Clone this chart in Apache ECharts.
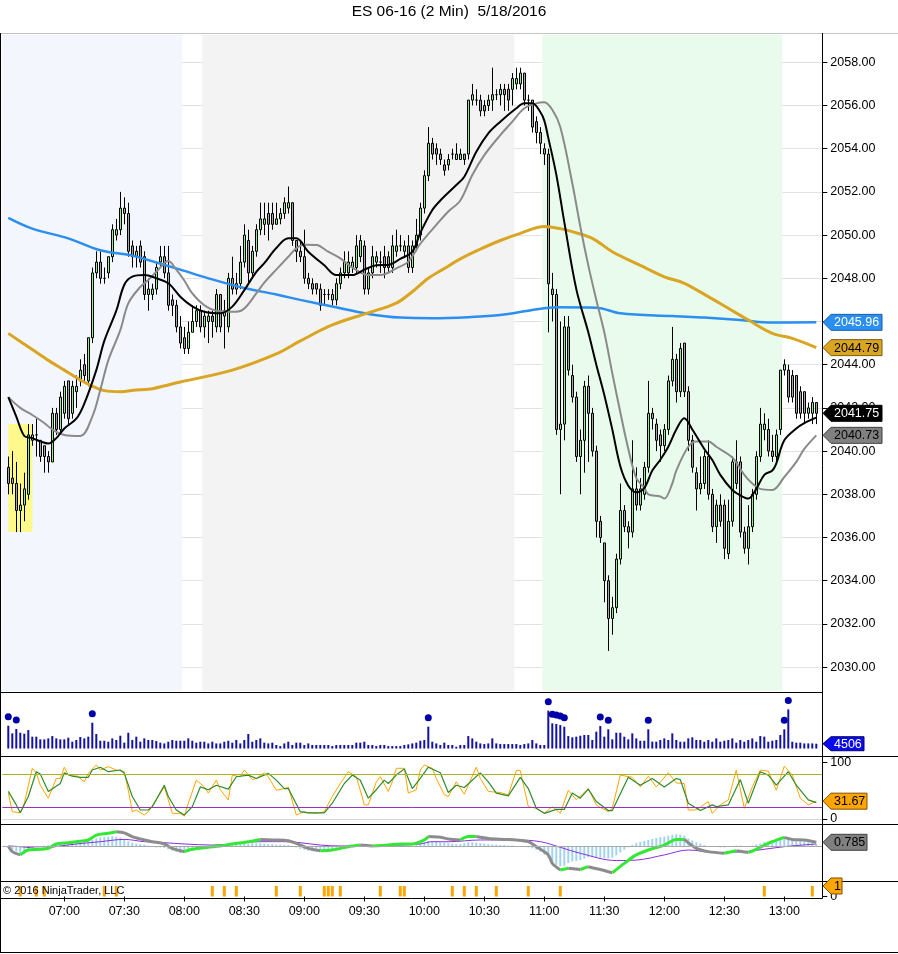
<!DOCTYPE html>
<html><head><meta charset="utf-8">
<script src="https://cdn.jsdelivr.net/npm/echarts@6/dist/echarts.min.js"></script>
<style>html,body{margin:0;padding:0;background:#fff}#c{width:898px;height:954px}</style>
</head><body><div id="c"></div>
<script>
// ---------------- DATA ----------------
const TITLE = 'ES 06-16 (2 Min)  5/18/2016';
const FIRST_BAR = '06:32';
const BAR_MINUTES = 2;

const open = [
2039.25,2038.75,2038.5,2037.25,2037.5,2038.0,2040.5,2040.75,2040.5,2040.25,
2039.75,2039.5,2041.75,2041.0,2041.75,2043.25,2041.75,2042.75,2043.25,2044.0,
2043.25,2045.25,2048.25,2048.75,2048.0,2048.25,2049.0,2050.0,2050.25,2051.25,
2051.0,2049.5,2049.0,2049.5,2049.0,2047.25,2047.25,2047.5,2048.75,2049.0,
2048.25,2047.0,2046.75,2045.75,2045.25,2044.75,2045.5,2046.0,2046.5,2045.75,
2046.0,2046.25,2045.75,2047.25,2046.25,2045.75,2048.0,2047.5,2047.75,2048.75,
2049.75,2048.25,2049.25,2050.25,2050.5,2051.0,2051.0,2050.5,2050.75,2051.0,
2051.25,2051.5,2049.75,2049.25,2049.0,2048.0,2047.75,2047.75,2047.5,2047.25,
2047.25,2047.0,2047.0,2047.75,2048.25,2048.25,2048.5,2048.5,2049.0,2049.5,
2047.5,2048.25,2048.75,2048.75,2049.0,2049.0,2048.5,2049.25,2049.5,2049.25,
2049.5,2048.5,2049.5,2050.0,2051.25,2052.75,2054.25,2054.0,2053.75,2053.25,
2053.25,2053.75,2053.5,2053.5,2053.75,2053.75,2056.25,2056.25,2056.25,2056.0,
2056.0,2056.25,2056.5,2056.5,2056.75,2056.75,2056.75,2057.0,2057.0,2057.5,
2056.25,2056.25,2055.25,2054.75,2054.0,2053.75,2047.5,2047.25,2041.0,2041.25,
2045.75,2043.5,2042.5,2039.75,2040.5,2043.0,2041.75,2040.0,2036.75,2035.75,
2034.0,2032.25,2032.75,2035.0,2037.25,2036.5,2036.25,2038.25,2037.5,2038.0,
2039.25,2041.75,2041.25,2040.75,2040.25,2041.0,2043.25,2044.25,2042.75,2045.0,
2042.75,2040.5,2039.0,2038.25,2038.5,2039.75,2038.0,2036.5,2037.5,2037.5,
2035.25,2036.75,2039.5,2039.5,2036.25,2035.5,2036.5,2038.0,2039.75,2041.0,
2041.0,2040.0,2039.75,2041.0,2043.75,2043.75,2043.5,2043.5,2042.75,2042.75,
2041.75,2041.75,2042.25];

const close = [
2038.5,2038.5,2037.25,2037.5,2038.25,2040.75,2040.75,2040.75,2039.75,2039.75,
2039.5,2041.75,2041.0,2042.5,2043.0,2041.5,2043.0,2043.0,2043.75,2043.5,
2045.25,2048.25,2048.75,2048.0,2048.0,2049.0,2050.25,2050.25,2051.25,2051.0,
2049.25,2049.0,2049.25,2048.75,2047.25,2047.5,2047.5,2048.5,2049.0,2048.25,
2046.75,2046.75,2045.75,2045.0,2044.75,2045.5,2046.0,2046.5,2045.75,2046.25,
2046.25,2046.0,2047.25,2045.75,2046.5,2048.0,2047.5,2047.75,2048.75,2050.0,
2048.25,2049.25,2050.25,2050.75,2050.75,2050.5,2050.5,2050.75,2051.0,2051.5,
2051.5,2049.75,2049.25,2049.0,2048.0,2047.75,2047.5,2047.5,2046.75,2047.25,
2047.25,2047.25,2047.75,2048.25,2048.75,2048.75,2048.75,2049.5,2049.75,2047.5,
2048.25,2049.0,2049.0,2048.75,2048.5,2048.5,2049.5,2049.5,2049.5,2049.5,
2048.5,2049.5,2050.0,2051.25,2052.75,2054.25,2053.75,2053.75,2053.5,2053.0,
2053.5,2053.75,2053.75,2053.75,2053.5,2056.25,2056.5,2056.25,2055.75,2055.75,
2056.25,2056.5,2056.5,2056.75,2056.5,2056.25,2057.25,2057.25,2057.5,2056.25,
2056.25,2055.0,2054.75,2054.25,2053.75,2047.75,2047.25,2041.0,2041.25,2045.75,
2043.75,2042.5,2039.75,2040.5,2043.0,2041.75,2040.0,2036.75,2036.0,2034.0,
2032.25,2032.75,2035.0,2037.25,2036.5,2036.25,2038.25,2037.5,2038.25,2039.25,
2041.75,2041.5,2040.5,2040.25,2041.0,2043.25,2044.25,2042.75,2044.75,2042.75,
2040.5,2039.25,2038.25,2038.5,2039.75,2038.0,2036.5,2037.5,2036.75,2035.5,
2036.75,2039.5,2038.5,2036.25,2035.5,2036.5,2038.0,2039.75,2041.25,2041.25,
2040.0,2039.75,2040.75,2043.75,2044.0,2042.5,2042.5,2041.75,2041.75,2041.75,
2042.0,2042.25,2041.75];

const low = [
2038.0,2038.0,2036.25,2036.25,2036.75,2037.75,2040.25,2039.75,2039.5,2039.0,
2039.0,2039.5,2040.75,2040.75,2041.5,2041.25,2041.5,2042.0,2043.0,2043.25,
2043.0,2045.0,2048.0,2047.75,2047.75,2048.0,2048.75,2049.75,2050.0,2050.5,
2049.0,2048.5,2048.5,2048.5,2047.0,2046.5,2047.0,2047.25,2048.5,2048.0,
2046.5,2046.25,2045.5,2044.75,2044.5,2044.5,2045.5,2045.75,2045.5,2045.25,
2045.0,2045.25,2045.5,2045.5,2044.75,2045.5,2047.25,2047.25,2047.5,2048.5,
2047.75,2048.0,2049.0,2050.0,2050.0,2049.75,2050.25,2050.5,2050.5,2050.75,
2051.0,2049.5,2048.75,2048.75,2047.75,2047.5,2047.25,2047.25,2046.5,2046.75,
2047.0,2046.75,2046.75,2047.5,2048.0,2048.0,2048.25,2048.25,2048.75,2047.25,
2047.25,2048.0,2048.5,2048.25,2048.0,2048.25,2048.25,2049.0,2049.25,2049.0,
2048.25,2048.25,2049.25,2049.75,2051.0,2052.5,2053.5,2053.25,2053.25,2052.75,
2053.0,2053.5,2053.5,2053.5,2053.25,2053.5,2056.0,2056.0,2055.5,2055.5,
2055.75,2055.75,2056.25,2056.0,2055.75,2055.75,2056.0,2056.75,2056.75,2056.0,
2055.75,2054.75,2054.25,2053.75,2053.25,2045.5,2046.0,2040.75,2038.0,2040.5,
2043.5,2042.25,2039.5,2038.0,2039.0,2039.5,2039.75,2036.0,2035.75,2033.0,
2030.75,2031.5,2032.5,2034.75,2036.25,2035.5,2036.0,2037.25,2037.25,2037.75,
2039.0,2041.0,2040.0,2039.5,2040.0,2040.75,2043.0,2042.25,2042.5,2042.5,
2040.0,2039.0,2037.25,2038.0,2038.25,2037.75,2036.25,2035.75,2036.5,2035.0,
2035.0,2036.5,2038.25,2036.0,2035.25,2034.75,2036.25,2037.75,2039.5,2040.5,
2039.75,2039.5,2039.5,2040.75,2043.5,2042.25,2042.25,2041.5,2041.5,2041.25,
2041.5,2041.25,2041.25];

const high = [
2039.75,2040.0,2039.5,2038.5,2039.0,2041.25,2041.25,2041.5,2040.5,2040.25,
2040.0,2042.0,2042.0,2042.75,2043.25,2043.25,2043.25,2043.5,2044.25,2044.5,
2045.25,2048.5,2049.25,2049.25,2048.5,2049.0,2050.5,2050.75,2052.0,2051.75,
2051.5,2049.75,2049.5,2049.75,2049.25,2048.0,2047.75,2048.75,2049.5,2049.5,
2049.5,2047.25,2047.0,2046.25,2045.75,2046.0,2046.75,2046.75,2046.75,2046.5,
2046.5,2046.5,2047.5,2047.25,2047.0,2048.25,2049.0,2048.25,2049.5,2050.5,
2050.25,2049.5,2050.5,2051.5,2051.5,2051.5,2051.5,2051.5,2051.25,2051.75,
2052.25,2051.5,2049.75,2049.75,2050.25,2048.25,2048.0,2047.75,2047.75,2047.5,
2047.5,2047.5,2048.0,2048.5,2049.25,2049.25,2049.0,2050.0,2050.0,2049.75,
2048.5,2049.5,2049.25,2049.25,2049.5,2049.25,2050.0,2050.25,2050.0,2049.75,
2050.0,2049.75,2050.75,2051.5,2053.0,2055.0,2054.5,2054.25,2054.0,2053.5,
2053.75,2054.0,2054.25,2054.0,2053.75,2056.25,2057.0,2056.75,2056.5,2056.25,
2056.5,2057.75,2056.75,2057.0,2057.0,2057.0,2057.5,2057.75,2057.75,2057.5,
2056.5,2056.25,2055.5,2055.0,2054.25,2054.0,2048.25,2047.5,2046.0,2046.25,
2046.25,2044.0,2042.75,2041.0,2043.25,2043.5,2042.0,2040.25,2037.0,2035.75,
2034.25,2033.25,2035.25,2038.5,2037.5,2036.75,2040.5,2039.25,2038.75,2039.5,
2043.25,2042.0,2041.5,2041.0,2041.25,2043.5,2045.75,2044.5,2045.0,2045.0,
2043.0,2040.75,2039.25,2039.75,2040.0,2040.5,2038.25,2037.75,2038.0,2037.75,
2037.75,2039.75,2040.5,2039.75,2036.5,2037.5,2038.25,2040.0,2042.0,2041.75,
2041.5,2040.75,2041.0,2043.75,2044.25,2044.0,2043.75,2043.5,2043.0,2042.75,
2042.25,2042.5,2042.25];

const volume = [
21400,14200,18300,14800,13900,17300,11100,11100,8600,8600,
9500,11700,9500,8600,8600,10200,6400,8000,10800,9500,
11100,24200,13600,7300,7300,6400,9500,8000,12000,5500,
14800,8000,11100,6400,9500,8000,8000,7000,5500,4800,
6400,8000,7300,7300,7300,9500,7300,5500,6400,6400,
4800,6400,4800,4800,6400,7300,5500,8000,4800,8000,
13600,6400,8000,9500,5500,4800,5500,3300,2300,4800,
6400,3300,5500,5500,3300,4800,3300,3300,3300,3300,
3300,2300,3300,3300,3300,3300,3300,5500,5500,6400,
3300,3300,2300,3300,3300,2300,2300,2300,2300,3300,
3900,4800,5500,7300,8000,20500,6400,4800,3300,5500,
3300,3300,1700,3300,3300,11700,9500,6400,4800,4200,
4800,9500,4800,4200,4200,4200,4200,4200,3300,4200,
4800,8000,4800,3300,3300,35500,23600,23000,22000,20500,
11700,10500,11100,12000,12700,12700,8000,15800,21100,11100,
18000,8600,14800,14800,11100,8600,14200,9500,7300,7300,
18000,6400,6400,8000,9500,8000,14200,8000,6400,6400,
9500,10500,8000,8000,6400,8000,6400,9500,6400,7300,
8000,9500,5500,8000,6400,8000,9500,6400,11700,11100,
6400,7300,8000,12700,18000,36700,6400,5500,5500,4800,
4800,4800,4506];

const volumeSpikeTimes = ['06:32','06:36','07:14','10:02','11:02','11:04','11:06','11:08','11:10','11:28','11:32','11:52','13:00','13:02'];

const blueMA = [['06:32',2050.8],['06:44',2050.3],['07:02',2049.85],['07:18',2049.3],['07:34',2049.05],['07:40',2048.9],['07:58',2048.4],['08:14',2047.95],['08:30',2047.55],['08:46',2047.25],['08:58',2047.0],['09:14',2046.69],['09:32',2046.35],['09:48',2046.18],['10:04',2046.15],['10:22',2046.2],['10:38',2046.3],['10:54',2046.53],['11:06',2046.66],['11:26',2046.64],['11:38',2046.38],['12:04',2046.25],['12:20',2046.18],['12:38',2046.07],['12:54',2045.95],['13:16',2045.96]];

const goldMA = [['06:32',2045.45],['06:44',2044.7],['06:52',2044.2],['07:00',2043.75],['07:08',2043.3],['07:14',2043.0],['07:20',2042.8],['07:28',2042.75],['07:36',2042.83],['07:42',2042.86],['07:58',2043.2],['08:24',2043.75],['08:46',2044.5],['08:58',2045.1],['09:14',2045.84],['09:32',2046.4],['09:46',2046.85],['09:54',2047.38],['10:02',2048.0],['10:10',2048.45],['10:18',2048.9],['10:28',2049.35],['10:38',2049.75],['10:48',2050.08],['11:00',2050.4],['11:08',2050.3],['11:14',2050.16],['11:24',2049.85],['11:34',2049.23],['11:48',2048.6],['12:00',2048.07],['12:10',2047.77],['12:22',2047.15],['12:32',2046.61],['12:42',2046.07],['12:54',2045.45],['13:04',2045.22],['13:16',2044.79]];

const blackMA = [['06:32',2042.5],['06:36',2041.6],['06:40',2040.7],['06:44',2040.6],['06:48',2040.45],['06:52',2040.35],['06:56',2040.6],['07:00',2041.05],['07:06',2041.5],['07:10',2042.2],['07:16',2043.75],['07:20',2045.1],['07:26',2046.5],['07:30',2047.7],['07:34',2048.08],['07:40',2048.15],['07:46',2048.0],['07:52',2047.77],['07:58',2047.15],['08:04',2046.7],['08:10',2046.45],['08:18',2046.38],['08:24',2046.69],['08:30',2047.45],['08:36',2048.3],['08:40',2048.7],['08:46',2049.4],['08:52',2049.85],['08:56',2049.85],['09:02',2049.23],['09:10',2048.6],['09:16',2048.15],['09:24',2048.15],['09:30',2048.4],['09:36',2048.6],['09:42',2048.62],['09:48',2048.9],['09:54',2049.23],['09:58',2050.1],['10:04',2051.16],['10:08',2051.6],['10:16',2052.32],['10:20',2052.7],['10:26',2053.86],['10:32',2054.71],['10:38',2055.25],['10:46',2055.87],['10:50',2056.1],['10:54',2056.1],['10:58',2055.7],['11:00',2055.3],['11:02',2054.5],['11:06',2052.8],['11:10',2050.6],['11:16',2047.5],['11:22',2045.5],['11:26',2044.0],['11:30',2042.6],['11:34',2041.0],['11:38',2039.3],['11:42',2038.4],['11:46',2038.1],['11:50',2038.3],['11:54',2039.1],['11:58',2039.6],['12:02',2040.2],['12:06',2041.0],['12:10',2041.52],['12:14',2041.0],['12:20',2040.1],['12:24',2039.59],['12:28',2038.9],['12:34',2038.2],['12:38',2037.95],['12:42',2037.8],['12:46',2038.25],['12:50',2038.9],['12:54',2039.1],['12:56',2039.43],['13:00',2040.5],['13:06',2041.05],['13:10',2041.3],['13:16',2041.55]];

const grayMA = [['06:32',2042.5],['06:38',2042.0],['06:44',2041.67],['06:50',2041.3],['06:54',2041.0],['07:00',2040.75],['07:08',2040.7],['07:14',2041.6],['07:18',2042.83],['07:22',2044.2],['07:28',2045.6],['07:32',2046.84],['07:38',2047.6],['07:42',2047.92],['07:46',2048.3],['07:52',2048.8],['07:56',2048.4],['08:00',2047.9],['08:04',2047.3],['08:10',2046.75],['08:16',2046.5],['08:26',2046.45],['08:30',2046.6],['08:36',2047.3],['08:40',2047.8],['08:46',2048.4],['08:52',2049.0],['08:56',2049.39],['09:00',2049.55],['09:06',2049.54],['09:12',2049.23],['09:18',2048.92],['09:24',2048.5],['09:32',2048.15],['09:38',2048.15],['09:46',2048.46],['09:52',2048.77],['09:58',2049.6],['10:06',2050.47],['10:12',2051.09],['10:18',2051.6],['10:24',2052.78],['10:30',2053.7],['10:38',2054.63],['10:44',2055.25],['10:50',2055.87],['10:56',2056.1],['11:00',2056.15],['11:04',2055.8],['11:08',2055.0],['11:14',2052.4],['11:18',2050.4],['11:22',2048.6],['11:26',2047.0],['11:30',2045.5],['11:34',2043.6],['11:38',2041.8],['11:42',2040.1],['11:46',2038.75],['11:50',2038.3],['11:52',2038.0],['11:58',2037.9],['12:00',2037.8],['12:04',2038.5],['12:06',2039.1],['12:12',2040.2],['12:16',2040.45],['12:22',2040.45],['12:26',2040.2],['12:34',2039.7],['12:40',2038.9],['12:44',2038.5],['12:48',2038.25],['12:54',2038.2],['13:00',2038.8],['13:06',2039.5],['13:10',2040.1],['13:16',2040.73]];

const stochK = [['06:32',46],['06:34',13],['06:38',11],['06:40',28],['06:44',90],['06:46',82],['06:48',60],['06:52',37],['06:56',72],['06:58',72],['07:00',92],['07:02',78],['07:06',78],['07:10',66],['07:12',81],['07:16',96],['07:18',87],['07:22',93],['07:26',87],['07:30',84],['07:32',51],['07:34',13],['07:36',16],['07:40',7],['07:42',13],['07:46',34],['07:50',57],['07:52',34],['07:54',10],['07:58',10],['08:00',5],['08:02',28],['08:06',69],['08:10',57],['08:12',46],['08:16',69],['08:18',52],['08:22',34],['08:24',78],['08:28',75],['08:30',87],['08:34',70],['08:36',72],['08:40',82],['08:42',75],['08:46',51],['08:50',54],['08:52',57],['08:56',7],['09:00',13],['09:02',11],['09:06',10],['09:10',13],['09:14',40],['09:18',63],['09:22',84],['09:26',75],['09:28',51],['09:30',25],['09:32',25],['09:36',66],['09:38',75],['09:42',49],['09:44',66],['09:46',90],['09:50',90],['09:52',46],['09:56',52],['09:58',87],['10:00',96],['10:04',90],['10:06',72],['10:10',43],['10:12',40],['10:16',66],['10:20',44],['10:26',92],['10:28',72],['10:32',49],['10:38',47],['10:42',43],['10:46',86],['10:48',86],['10:52',22],['10:56',19],['11:00',10],['11:04',22],['11:08',10],['11:12',51],['11:16',34],['11:22',54],['11:26',25],['11:32',13],['11:34',19],['11:38',78],['11:44',74],['11:48',57],['11:52',76],['11:56',57],['12:02',82],['12:06',64],['12:10',63],['12:12',16],['12:16',16],['12:22',31],['12:24',10],['12:28',25],['12:32',34],['12:36',87],['12:40',19],['12:44',57],['12:48',87],['12:52',85],['12:56',51],['13:00',94],['13:04',78],['13:08',37],['13:12',25],['13:16',31.67]];

const stochD = [['06:32',49],['06:36',25],['06:38',11],['06:42',40],['06:46',84],['06:48',80],['06:52',49],['06:58',63],['07:00',82],['07:04',76],['07:08',74],['07:12',74],['07:14',87],['07:18',92],['07:22',84],['07:28',87],['07:30',81],['07:34',40],['07:38',16],['07:42',16],['07:44',22],['07:50',60],['07:52',40],['07:56',16],['08:00',7],['08:04',22],['08:08',57],['08:12',52],['08:16',60],['08:22',53],['08:26',75],['08:32',78],['08:36',72],['08:42',81],['08:46',69],['08:50',54],['08:52',54],['08:58',13],['09:02',11],['09:10',11],['09:14',28],['09:20',63],['09:24',78],['09:28',69],['09:32',37],['09:36',52],['09:40',69],['09:42',63],['09:46',78],['09:50',89],['09:54',54],['09:58',72],['10:02',92],['10:08',82],['10:12',47],['10:16',60],['10:20',56],['10:28',82],['10:32',66],['10:36',46],['10:42',41],['10:48',74],['10:52',54],['10:56',19],['11:00',10],['11:06',17],['11:10',17],['11:14',46],['11:18',37],['11:22',53],['11:26',31],['11:32',15],['11:34',15],['11:42',74],['11:48',60],['11:54',72],['12:00',57],['12:06',72],['12:08',70],['12:12',28],['12:18',15],['12:24',25],['12:26',22],['12:32',25],['12:38',70],['12:42',28],['12:48',84],['12:52',78],['12:56',60],['13:02',84],['13:06',60],['13:12',34],['13:16',29]];

const macdLine = [['06:32',0],['06:34',-1.2],['06:38',-1.9],['06:42',-0.85],['06:48',-0.7],['06:52',-0.5],['06:56',0.43],['07:02',0.7],['07:06',0.92],['07:12',1.28],['07:16',2.3],['07:22',2.7],['07:26',3.05],['07:30',2.8],['07:34',2.0],['07:40',1.28],['07:44',0.92],['07:50',0.43],['07:54',-0.5],['08:00',-1.2],['08:04',-0.7],['08:12',-0.28],['08:18',0],['08:24',0.43],['08:32',0.92],['08:38',1.4],['08:44',1.28],['08:52',1.13],['08:56',0.57],['09:02',-0.5],['09:08',-1.0],['09:14',-0.85],['09:22',-0.14],['09:28',0.2],['09:34',0],['09:42',0.2],['09:48',0.43],['09:54',0.43],['10:00',1.28],['10:02',2.0],['10:08',1.84],['10:12',1.5],['10:18',1.28],['10:22',2.0],['10:26',2.0],['10:32',1.6],['10:40',1.4],['10:46',1.28],['10:52',0.92],['10:56',-0.14],['11:02',-1.9],['11:04',-3.7],['11:08',-5.1],['11:12',-4.75],['11:18',-5.0],['11:22',-4.4],['11:28',-5.0],['11:34',-5.7],['11:40',-3.7],['11:46',-1.9],['11:52',-0.85],['12:00',0.2],['12:06',1.4],['12:10',1.4],['12:16',-0.5],['12:22',-1.2],['12:30',-1.56],['12:36',-1.0],['12:42',-1.4],['12:46',-0.7],['12:52',0.57],['13:00',1.84],['13:04',1.4],['13:10',1.28],['13:16',0.785]];

const macdAvg = [['06:32',0],['06:38',-0.14],['06:48',-0.5],['06:58',0],['07:06',0.43],['07:18',0.92],['07:30',1.4],['07:40',0.92],['07:50',0.7],['08:00',0.43],['08:14',0.2],['08:24',0.43],['08:38',0.92],['08:50',0.92],['08:58',0.7],['09:08',0.2],['09:18',0],['09:32',0],['09:48',0.2],['09:58',0.43],['10:04',0.92],['10:12',0.9],['10:28',1.28],['10:46',1.28],['10:58',0.92],['11:08',-0.28],['11:18',-1.56],['11:36',-3.1],['11:46',-3.0],['12:00',-1.9],['12:12',-0.85],['12:26',-1.4],['12:40',-1.2],['12:50',-0.7],['13:00',-0.14],['13:16',0.43]];

const macdDiff = [
-0.3,-0.8,-1.2,-1.5,-1.2,-0.6,-0.3,-0.2,-0.1,0.1,
0.2,0.3,0.5,0.6,0.7,0.6,0.6,0.6,0.7,0.8,
1.0,1.3,1.6,1.8,1.9,2.0,2.1,2.0,1.8,1.5,
1.0,0.7,0.5,0.4,0.3,0.1,-0.1,-0.3,-0.3,-0.4,
-0.7,-1.0,-1.3,-1.5,-1.5,-1.2,-1.0,-0.8,-0.6,-0.5,
-0.4,-0.3,-0.2,-0.1,0,0.1,0.2,0.3,0.4,0.5,
0.5,0.6,0.6,0.6,0.5,0.4,0.4,0.3,0.3,0.2,
0.2,0,-0.3,-0.6,-0.8,-1.0,-1.1,-1.2,-1.1,-1.0,
-0.9,-0.8,-0.6,-0.4,-0.3,-0.2,-0.1,0,0.1,0.1,
0,0,0,0.1,0.1,0.1,0.1,0.2,0.2,0.2,
0.1,0.1,0.2,0.5,0.8,1.1,1.0,0.9,0.8,0.7,
0.6,0.5,0.4,0.4,0.6,0.8,0.8,0.7,0.6,0.5,
0.4,0.3,0.3,0.2,0.2,0.1,0.1,0,-0.1,-0.2,
-0.3,-0.5,-0.8,-1.2,-1.8,-2.6,-3.4,-4.0,-4.3,-4.2,
-3.6,-3.3,-3.2,-3.0,-2.7,-2.4,-2.3,-2.4,-2.5,-2.6,
-2.6,-2.5,-2.0,-1.4,-0.8,-0.3,0.2,0.6,0.9,1.1,
1.3,1.5,1.7,1.9,2.0,2.2,2.4,2.5,2.4,2.2,
1.6,1.2,0.8,0.5,0.2,0,-0.1,-0.2,-0.3,-0.3,
-0.2,-0.1,0.1,0.1,0,-0.1,0.1,0.3,0.5,0.8,
1.0,1.2,1.5,1.7,1.9,1.8,1.6,1.4,1.2,1.0,
0.8,0.6,0.4];

const signalTimes = ['06:38','06:46','06:50','07:20','07:26','08:14','08:20','08:26','08:46','08:58','09:10','09:12','09:14','09:18','09:38','09:48','09:50','10:14','10:20','10:26','10:36','10:52','11:08','12:50','13:14'];

const priceTicks = [2030,2032,2034,2036,2038,2040,2042,2044,2046,2048,2050,2052,2054,2056,2058];
const stochTicks = [0,100];
const stochLevels = [80,20,0];
const highlightBox = {from:'06:32', to:'06:44', top:2041.25, bottom:2036.25};
const sessionBands = [
  {from:'06:29', to:'07:59', color:'#f4f6fd'},
  {from:'08:09', to:'10:45', color:'#f3f3f3'},
  {from:'10:59', to:'12:59', color:'#e9fbec'}
];

// ---------------- BUILD ----------------
function toMin(s){const p=s.split(':');return (+p[0])*60+(+p[1]);}
function fmt(m){return String(Math.floor(m/60)).padStart(2,'0')+':'+String(m%60).padStart(2,'0');}
const t0 = toMin(FIRST_BAR);
const barTimes = open.map((_, i) => fmt(t0 + i*BAR_MINUTES));
const categories = [fmt(t0-BAR_MINUTES), ...barTimes, fmt(t0+open.length*BAR_MINUTES)];
const idxOf = t => barTimes.indexOf(t);

const FONT = '"Liberation Sans", Arial, sans-serif';
const GL = 2.3, GR = 75.7;
const grids = [
  {top:40.7, height:648},   // 0 price
  {top:692, height:64},     // 1 volume
  {top:756, height:68},     // 2 stochastics
  {top:824, height:57},     // 3 macd
  {top:881, height:17},     // 4 signals
  {top:35, height:656}      // 5 session backgrounds
].map(g => Object.assign({left:GL, right:GR, containLabel:false, outerBoundsMode:'none'}, g));

const isHalfHour = (i, v) => i > 0 && /:(00|30)$/.test(v);
const xAxes = [0,1,2,3,4].map(g => ({
  type:'category', gridIndex:g, data:categories, boundaryGap:true,
  axisLine:{show:false},
  axisTick: g===4 ? {show:true, interval:isHalfHour, alignWithLabel:true, length:5, lineStyle:{color:'#000'}} : {show:false},
  axisLabel: g===4 ? {show:true, interval:isHalfHour, color:'#000', fontSize:12.5, fontFamily:FONT, margin:7} : {show:false},
  splitLine:{show:false}
}));
xAxes.push({type:'value', gridIndex:5, min:toMin('06:29'), max:toMin('13:19'), show:false});

const lbl = (vals, fmtFn) => ({customValues:vals, color:'#000', fontSize:12.5, fontFamily:FONT, margin:8, formatter:fmtFn});
const tick = vals => ({show:true, customValues:vals, length:5, lineStyle:{color:'#000'}});
const yAxes = [
  {type:'value', gridIndex:0, position:'right', min:2029, max:2059, interval:1,
   splitLine:{show:true, lineStyle:{color:'#e2e2e2', width:1}}, axisLine:{show:false},
   axisTick:tick(priceTicks), axisLabel:lbl(priceTicks, v => Number(v).toFixed(2))},
  {type:'value', gridIndex:1, min:-7000, max:53000, show:false},
  {type:'value', gridIndex:2, position:'right', min:-8.9, max:111.9, splitLine:{show:false}, axisLine:{show:false},
   axisTick:tick(stochTicks), axisLabel:lbl(stochTicks, v => String(v))},
  {type:'value', gridIndex:3, min:-7.45, max:4.68, show:false},
  {type:'value', gridIndex:4, position:'right', min:-0.143, max:1.476, splitLine:{show:false}, axisLine:{show:false},
   axisTick:tick([0]), axisLabel:lbl([0], v => String(v))},
  {type:'value', gridIndex:5, min:0, max:1, show:false}
];

const lineS = (data, color, width, xi, extra) => Object.assign({
  type:'line', xAxisIndex:xi, yAxisIndex:xi, data, symbol:'none', smooth:0.35,
  lineStyle:{color, width}, itemStyle:{color}, silent:true, z:3
}, extra||{});

const series = [];
series.push({type:'line', xAxisIndex:5, yAxisIndex:5, data:[[toMin('06:29'),0]], symbol:'none',
  lineStyle:{opacity:0}, silent:true, z:-1,
  markArea:{silent:true, data: sessionBands.map(b => [{xAxis:toMin(b.from), itemStyle:{color:b.color, opacity:1}}, {xAxis:toMin(b.to)}])}});
series.push({type:'line', xAxisIndex:0, yAxisIndex:0, data:[], symbol:'none', silent:true, z:1,
  markArea:{silent:true, itemStyle:{color:'rgba(255,250,110,0.8)'},
    data:[[{xAxis:highlightBox.from, yAxis:highlightBox.top}, {xAxis:highlightBox.to, yAxis:highlightBox.bottom}]]}});
series.push({type:'candlestick', xAxisIndex:0, yAxisIndex:0, barWidth:3, z:2, silent:true,
  dimensions:['time','open','close','low','high'], encode:{x:'time', y:['open','close','low','high']},
  data: barTimes.map((t,i) => [t, open[i], close[i], low[i], high[i]]),
  itemStyle:{color:'#90ee90', color0:'#a6a6a6', borderColor:'#000', borderColor0:'#000', borderColorDoji:'#000', borderWidth:1}});
series.push(lineS(blueMA, '#2a8ff0', 2.5, 0));
series.push(lineS(goldMA, '#d9a522', 3, 0));
series.push(lineS(grayMA, '#8a8a8a', 2, 0));
series.push(lineS(blackMA, '#000000', 2, 0));
series.push({type:'bar', xAxisIndex:1, yAxisIndex:1, barWidth:2, silent:true,
  data: barTimes.map((t,i) => [t, volume[i]]), itemStyle:{color:'#12129a'}});
series.push({type:'scatter', xAxisIndex:1, yAxisIndex:1, symbol:'circle', symbolSize:7, symbolOffset:[0,-9], silent:true,
  data: volumeSpikeTimes.map(t => [t, volume[idxOf(t)]]), itemStyle:{color:'#0000a8', opacity:1}});
series.push(lineS(stochK, '#ffa500', 1, 2, {smooth:false, markLine:{silent:true, symbol:['none','none'], label:{show:false},
  data: stochLevels.map((v,k) => ({yAxis:v, lineStyle:{color:['#a4b424','#9a2fc4','#d6d6d6'][k], width:1, type:'solid'}}))}}));
series.push(lineS(stochD, '#2e8b2e', 1.2, 2, {smooth:false}));
series.push({type:'bar', xAxisIndex:3, yAxisIndex:3, barWidth:2, silent:true,
  data: barTimes.map((t,i) => [t, macdDiff[i]]), itemStyle:{color:'#a3d3ee'}});
series.push(lineS(macdAvg, '#8a2be2', 1, 3, {markLine:{silent:true, symbol:['none','none'], label:{show:false},
  data:[{yAxis:0, lineStyle:{color:'#a8a8a8', width:1, type:'solid'}}]}}));
const runs = [];
for (let j=0;j<macdLine.length-1;j++){
  const up = macdLine[j+1][1] >= macdLine[j][1];
  const last = runs[runs.length-1];
  if (last && last.up===up) last.pts.push(macdLine[j+1]);
  else runs.push({up, pts:[macdLine[j], macdLine[j+1]]});
}
runs.forEach(r => series.push(lineS(r.pts, r.up ? '#33e833' : '#8c8c8c', 3, 3, {smooth:0.3, z:4})));
series.push({type:'bar', xAxisIndex:4, yAxisIndex:4, barWidth:3, silent:true,
  data: signalTimes.map(t => [t, 1]), itemStyle:{color:'#ffa500'}});

const chart = echarts.init(document.getElementById('c'), null, {renderer:'canvas'});
chart.setOption({animation:false, backgroundColor:'#fff', grid:grids, xAxis:xAxes, yAxis:yAxes, series});

// ---------------- decorations ----------------
const G = [];
const line = (x1,y1,x2,y2,c) => G.push({type:'line', shape:{x1,y1,x2,y2}, style:{stroke:c||'#000', lineWidth:1}, z:50, silent:true});
line(0,33.5,898,33.5,'#c4c4c4');
line(0.5,33,0.5,953);
line(822.5,33,822.5,898.5);
line(0,692.5,822.5,692.5);
line(0,756.5,898,756.5);
line(0,824.5,898,824.5);
line(0,881.5,898,881.5);
line(0,898.5,822.5,898.5);
line(0,952.5,898,952.5);
G.push({type:'text', x:449, y:12, silent:true, z:60, style:{text:TITLE, fill:'#000', font:'15.5px '+FONT, align:'center', verticalAlign:'middle'}});
G.push({type:'text', x:3, y:891, silent:true, z:60, style:{text:'\u00a9 2016 NinjaTrader, LLC', fill:'#000', font:'11px '+FONT, verticalAlign:'middle'}});

function flag(yAxisIndex, value, text, bg, fg, stroke, right, half){
  const y = chart.convertToPixel({yAxisIndex}, value);
  const h = half || 8;
  G.push({type:'polygon', silent:true, z:70, shape:{points:[[823,y],[831,y-h],[right,y-h],[right,y+h],[831,y+h]]}, style:{fill:bg, stroke, lineWidth:1}});
  G.push({type:'text', x:834, y:y+0.5, silent:true, z:71, style:{text, fill:fg, font:'12.5px '+FONT, verticalAlign:'middle'}});
}
const lastV = a => a[a.length-1][1];
flag(0, lastV(blueMA), lastV(blueMA).toFixed(2), '#2a8ff0', '#fff', '#1b5ea8', 882);
flag(0, lastV(goldMA), lastV(goldMA).toFixed(2), '#daa520', '#000', '#7a5c10', 882);
flag(0, lastV(grayMA), lastV(grayMA).toFixed(2), '#808080', '#000', '#404040', 882);
flag(0, close[close.length-1], close[close.length-1].toFixed(2), '#000', '#fff', '#000', 882);
flag(1, volume[volume.length-1], String(volume[volume.length-1]), '#0a0aee', '#fff', '#00006a', 864, 7);
flag(2, lastV(stochK), lastV(stochK).toFixed(2), '#ffa500', '#000', '#805000', 867);
flag(3, lastV(macdLine), lastV(macdLine).toFixed(3), '#808080', '#000', '#404040', 867);
flag(4, 1, '1', '#ffa500', '#000', '#805000', 842);
chart.setOption({graphic:G});
</script></body></html>
